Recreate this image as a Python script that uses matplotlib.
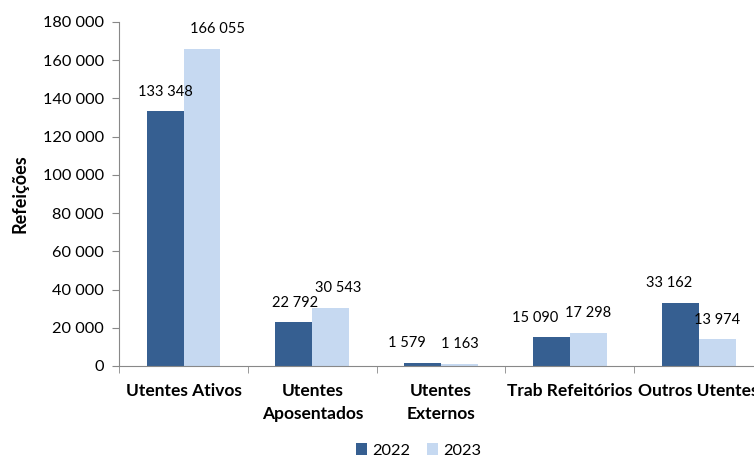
import matplotlib
matplotlib.use("Agg")
import matplotlib.pyplot as plt
import numpy as np

categories = ["Utentes Ativos", "Utentes\nAposentados", "Utentes\nExternos",
              "Trab Refeitórios", "Outros Utentes"]
years = ["2022", "2023"]
values_2022 = [133348, 22792, 1579, 15090, 33162]
values_2023 = [166055, 30543, 1163, 17298, 13974]
yticks = [0, 20000, 40000, 60000, 80000, 100000, 120000, 140000, 160000, 180000]

# label x-offsets (points) where Excel nudged overlapping labels
dx_2022 = [0, 1, -11, -12, -8]
dx_2023 = [11, 5, 0, 0, 0]

DARK = "#365F91"
LIGHT = "#C6D9F1"
AXIS = "#888888"

plt.rcParams["font.family"] = ["Lato", "DejaVu Sans"]


def fmt(v):
    return f"{v:,}".replace(",", " ")


fig = plt.figure(figsize=(7.54, 4.68), dpi=100)
ax = fig.add_axes([0.158, 0.218, 0.854, 0.735])

x = np.arange(len(categories))
w = 0.287
b1 = ax.bar(x - w / 2, values_2022, w, color=DARK, label=years[0])
b2 = ax.bar(x + w / 2, values_2023, w, color=LIGHT, label=years[1])

for rect, v, dx in zip(b1, values_2022, dx_2022):
    ax.annotate(fmt(v), (rect.get_x() + rect.get_width() / 2, rect.get_height()),
                xytext=(dx, 9), textcoords="offset points",
                ha="center", va="bottom", fontsize=10.5)
for rect, v, dx in zip(b2, values_2023, dx_2023):
    ax.annotate(fmt(v), (rect.get_x() + rect.get_width() / 2, rect.get_height()),
                xytext=(dx, 9), textcoords="offset points",
                ha="center", va="bottom", fontsize=10.5)

ax.set_xlim(-0.5, len(categories) - 0.5)
ax.set_ylim(0, 180000)
ax.set_yticks(yticks)
ax.set_yticklabels([fmt(t) for t in yticks], fontsize=11.8)
ax.set_xticks(x)
ax.set_xticklabels(categories, fontsize=12.5, fontweight="bold", linespacing=1.6)
ax.set_xticks(np.arange(-0.5, len(categories)), minor=True)
ax.tick_params(axis="x", which="major", length=0, pad=12)
ax.tick_params(axis="x", which="minor", length=5, color=AXIS)
ax.tick_params(axis="y", length=5, color=AXIS, pad=6)

for s in ["top", "right"]:
    ax.spines[s].set_visible(False)
for s in ["left", "bottom"]:
    ax.spines[s].set_color(AXIS)

ax.set_ylabel("Refeições", fontsize=13, fontweight="bold", labelpad=10)

fig.legend(loc="lower center", bbox_to_anchor=(0.555, -0.01), ncol=2, frameon=False,
           fontsize=11.8, handlelength=0.7, handleheight=0.7, handletextpad=0.3,
           columnspacing=1.0)

fig.savefig("out.png", dpi=100)
